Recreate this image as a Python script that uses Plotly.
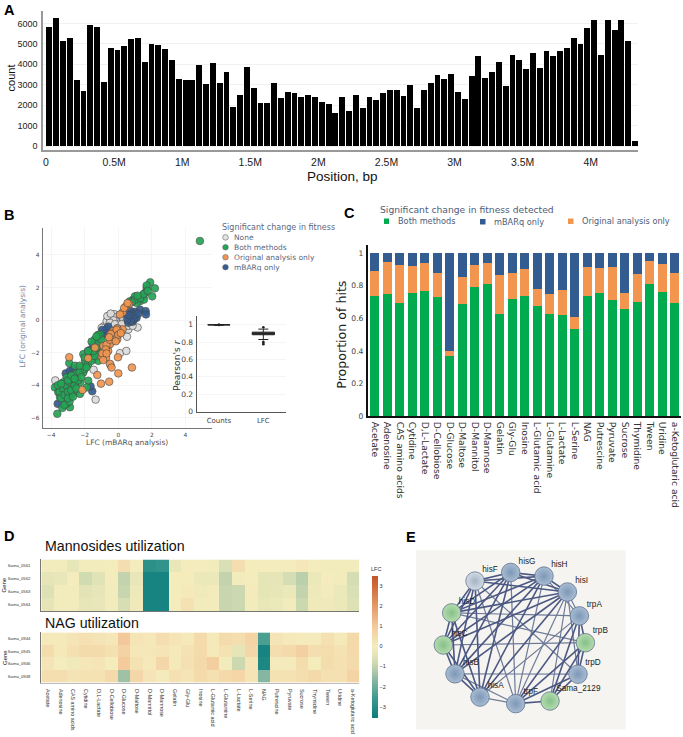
import plotly.graph_objects as go

W, H = 683, 737
# ---------- Panel A ----------
bin_kb = 50
counts = [5805,6270,5125,5270,3235,2685,5900,5805,3135,4785,4705,4880,5255,5270,4120,4980,4950,4750,4200,3300,
          3220,3235,3960,3025,4075,3070,3605,1925,2520,3865,2860,2120,2085,3070,2330,2650,2570,2390,2520,2390,
          2135,2070,1600,2375,1715,2475,1875,2410,2250,2600,2730,2730,2460,2975,1845,2765,3070,3495,3285,3525,
          2635,2310,3445,4400,3315,3640,4105,2945,4430,4190,3785,4545,3815,4640,4380,4625,4785,5305,4980,5790,
          6145,4445,6145,5675,6160,5160,225]
pos_ticks = [0,500000,1000000,1500000,2000000,2500000,3000000,3500000,4000000]
pos_labels = ["0","0.5M","1M","1.5M","2M","2.5M","3M","3.5M","4M"]
count_ticks = [0,1000,2000,3000,4000,5000,6000]

# ---------- Panel B ----------
none_x = [-3.75,-1.35,-1.47,.10,.48,1.15,.52,-.24,-.50,.14,-.30,.30,-.85,-.46,-.99,.60,0,.40,-.69,-.10,.79,
          -.1,.1,-.3,.3,.5,-.5,-.2,.6,-.65,.2,-.05,.85,-.45]
none_y = [-3.70,-4.88,-3.05,-2.03,-1.89,-.45,-1.02,.37,.14,-.06,-.37,.45,-.37,-2.76,-.47,-.57,.04,-.37,-.06,-.16,-.16,
          .2,.3,0,.1,0,-.15,-.25,-.35,.25,-.25,-.5,-.35,.4]
both_x = [4.86,1.90,2.18,2.02,1.69,1.59,1.49,1.19,.89,.69,1.29,.99,1.69,1.53,1.09,-1.09,-1.39,-1.59,-1.19,-1.09,-1.29,
          -1.49,-1.19,-1.69,-2.08,-1.98,-1.79,-2.18,-2.38,-2.08,-2.58,-2.78,-2.48,-2.92,-1.79,-2.28,-3.08,-3.27,-2.98,
          -2.68,-3.77,-3.47,-3.17,-2.78,-3.57,-3.27,-2.98,-2.58,-2.28,-3.47,-3.17,-2.88,-3.33,-3.63,-3.08,-1.88,-2.58,
          -3.5,-3.3,-3.1,-2.9,-3.4,-3.2,-3.0,-2.8,-2.6,-2.4,-2.7,-2.5,-2.3,-2.2,-2.0,-1.9,-2.3,-1.8,-1.6,-1.4,-1.5,-1.3,-1.8,-2.0,
          -3.6,-3.4,-3.0,-2.8,-2.6,-3.2,-2.9,-3.0,-2.7,-2.5,-1.0,-1.2,-1.3,1.0,1.3,1.5,.8,1.15,1.75,.6]
both_y = [4.86,2.32,1.95,1.46,1.97,1.67,1.42,1.36,1.26,1.16,1.16,1.46,2.13,1.26,1.06,-.87,-1.18,-1.32,-1.48,-1.79,-2.09,
          -2.40,-2.50,-2.09,-2.09,-2.50,-2.70,-2.91,-3.11,-3.21,-3.31,-3.52,-3.52,-2.64,-3.72,-3.82,-3.52,-3.82,-3.92,
          -3.82,-4.13,-4.13,-4.23,-4.13,-4.43,-4.53,-4.53,-4.43,-4.53,-4.74,-4.94,-5.35,-5.39,-5.75,-5.14,-4.13,-2.80,
          -4.4,-4.2,-4.0,-3.8,-4.8,-4.6,-4.4,-4.3,-4.0,-3.7,-3.6,-3.3,-3.2,-3.5,-3.0,-2.9,-2.8,-2.3,-2.5,-2.2,-1.9,-1.7,-1.9,-2.3,
          -4.0,-3.9,-3.7,-3.4,-3.6,-5.2,-5.0,-4.8,-4.7,-4.2,-1.2,-.9,-1.0,1.25,1.35,1.6,1.1,1.5,1.8,1.0]
orig_x = [-2.92,-1.25,-1.03,-.54,0,.81,-.02,-.50,-.40,-2.14,-1.79,-.73,-.99,-.85,-.60,-.89,-.60,-.30,-.06,-.40,-.10,-.30,
          .10,.26,-.06,-1.39,.26,.46,.65,-.2,-.5,
          -.7,-.75,-.5,-.35,-.2,-.1,0,.15,-.45,-.55,-.95,-.7,.1,.35,.55,-.15,-.9]
orig_y = [-2.28,-3.37,-3.90,-3.78,-3.27,-2.91,-2.28,-2.68,-2.91,-4.29,-2.34,-2.30,-2.26,-1.93,-1.89,-1.59,-1.52,-1.28,-1.18,
          -.98,-.83,-.67,-.67,-.57,-.51,-1.69,.47,.85,1.0,-1.04,-1.48,
          -1.5,-1.8,-1.2,-1.0,-.75,-.6,-.9,-.8,-.85,-1.05,-2.05,-2.05,.35,.75,1.05,-1.3,-2.45]
mbarq_x = [-1.55,-1.65,-2.82,-3.61,-3.13,-2.88,-2.68,-1.69,-1.39,-1.09,-.89,-.69,-.79,.75,.99,1.29,1.63,1.65,.89,.69,.6,.85,1.09,.5,
           .8,1.0,.95,.75,.55,1.2,.65,-1.0,-.75,-.6,-.95,-1.2,-1.8,-1.5]
mbarq_y = [-4.37,-4.07,-4.59,-5.14,-3.27,-3.11,-3.01,-1.83,-1.28,-1.08,-.77,-.57,-.87,.55,.51,.65,.55,.35,.24,.10,-.16,-.10,.14,.35,
           .4,.3,.05,-.05,.05,.4,.3,-.9,-.65,-.4,-.6,-1.15,-1.9,-1.5]
lfc_ticks = [-4,-2,0,2,4]
lfc_ytick = [-6,-4,-2,0,2,4]
legend_b = ["None","Both methods","Original analysis only","mBARq only"]

box_names = ["Counts","LFC"]
box_q1 = [.998,.885]
box_med = [1.0,.90]
box_q3 = [1.0,.915]
box_low = [.995,.83]
box_up = [1.0,.95]
out_names = ["LFC","LFC","LFC","LFC"]
out_vals = [.775,.79,.805,.97]

# ---------- Panel C ----------
carbon = ["Acetate","Adenosine","CAS amino acids","Cytidine","D,L-Lactate","D-Cellobiose","D-Glucose","D-Maltose","D-Mannitol",
          "D-Mannose","Gelatin","Gly-Glu","Inosine","L-Glutamic acid","L-Glutamine","L-Lactate","L-Serine","NAG","Putrescine",
          "Pyruvate","Sucrose","Thymidine","Tween","Uridine","a-Ketoglutaric acid"]
both_p = [.735,.752,.693,.756,.768,.732,.372,.687,.791,.813,.626,.717,.736,.673,.624,.618,.533,.740,.758,.713,.659,.699,.809,.764,.695]
orig_p = [.157,.191,.232,.163,.171,.144,.030,.165,.138,.126,.238,.161,.164,.107,.124,.158,.075,.173,.149,.204,.097,.173,.146,.169,.181]
mbarq_p = [.108,.057,.075,.081,.061,.124,.598,.148,.071,.061,.136,.122,.100,.220,.252,.224,.392,.087,.093,.083,.244,.128,.045,.067,.124]
prop_ticks = [0,.2,.4,.6,.8,1]
prop_labels = ["0","0.2","0.4","0.6","0.8","1"]

# ---------- Panel D ----------
man_genes = ["Sama_0561","Sama_0562","Sama_0563","Sama_0564"]
man_lfc = [
 [-.1,-.1,-.35,-.1,-.1,0,.4,-.05,-2.9,-2.8,-.3,-.05,-.05,-.1,-.6,.4,0,-.05,-.05,-.05,.15,-.05,-.1,-.1,-.1],
 [-.4,-.3,-.05,-.75,-.5,-.05,-1.0,-.3,-3.3,-3.3,0,0,-.25,-.25,-1.0,-.1,0,-.4,-.4,-.7,-1.1,-.25,-.05,-.1,-.7],
 [-.55,-.1,-.1,-.45,-.35,-.1,-.9,-.2,-3.3,-3.3,0,.1,-.15,-.1,-.9,-.85,.05,-.4,-.35,-.25,-1.0,-.2,-.1,-.25,-.6],
 [-.4,-.1,-.1,-.35,-.3,-.1,-.65,-.15,-3.3,-3.3,-.05,.3,-.1,-.1,-.9,-.85,-.1,-.3,-.25,-.1,-.85,-.15,-.15,-.25,-.55],
]
nag_genes = ["Sama_0944","Sama_0945","Sama_0946","Sama_0948"]
nag_lfc = [
 [.1,.1,.2,.35,.25,.15,1.0,.2,.15,.4,.2,.1,.5,.1,.5,.4,.7,-2.4,.2,.1,.05,.05,.35,.1,.55],
 [.45,.1,.35,.5,.5,.35,.75,.15,.15,.2,.1,.3,.5,.1,.3,-.4,.6,-3.3,.4,.55,.8,.4,.45,.3,.55],
 [.2,-.05,-.15,.15,.2,0,.95,.3,.1,.6,.1,.35,.55,.85,-.1,-.85,.2,-3.2,.05,.05,.45,0,.45,.35,.5],
 [.4,.4,.25,.3,.3,.55,-1.4,.6,.2,.05,.35,.2,.5,.35,.55,.65,.2,-1.7,.3,.3,.4,.55,.35,.35,.7],
]
lfc_scale = [[0,"#0b7d7e"],[.143,"#3e9a8f"],[.286,"#93bca5"],[.357,"#c0d2ac"],[.429,"#dfe2b6"],[.5,"#f5edbd"],
             [.643,"#f3ca9c"],[.786,"#e49a68"],[.929,"#cf6a3a"],[1,"#c4552a"]]

# ---------- Panel E ----------
node_names = ["hisF","hisG","hisH","hisI","trpA","trpB","trpD","Sama_2129","trpF","hisA","hisB","hisC","hisD"]
node_x = [195,302,402,472,508,526,504,420,317,210,135,100,125]
node_y = [165,139,150,198,270,351,446,527,535,515,445,358,261]
label_x = [240,351,448,515,553,571,549,505,362,257,183,148,171]
label_y = [131,107,116,166,238,317,412,492,501,481,411,326,228]
node_fill = ["#d2dbe5","#a9bdd3","#a9bdd3","#a9bdd3","#a9bdd3","#b5dcae","#a9bdd3","#b5dcae","#a9bdd3","#a9bdd3","#a9bdd3","#b5dcae","#b5dcae"]
node_rim = ["#a4b4c4","#7d97b6","#7d97b6","#7d97b6","#7d97b6","#86c088","#7d97b6","#86c088","#7d97b6","#7d97b6","#7d97b6","#86c088","#86c088"]
his = [0,1,2,3,9,10,11,12]
trp = [4,5,6,7,8]
heavy_edges = [(a,b) for i,a in enumerate(his) for b in his[i+1:]] + [(a,b) for i,a in enumerate(trp) for b in trp[i+1:]]
light_edges = [(3,8),(0,8),(1,8),(10,6),(12,4),(11,5),(12,5),(0,6),(3,4),(2,4),(9,4),(3,6),(9,8),(10,8),(3,7),(2,8)]

BLUE, GREEN, ORANGE, GREY = "#335c90", "#00ab50", "#f2964f", "#dddddd"
SANS = "Liberation Sans"
DJV = "DejaVu Sans"

def dx(l, r): return [l/W, r/W]
def dy(t, b): return [1-b/H, 1-t/H]

fig = go.Figure()

# A
fig.add_trace(go.Bar(x=[(i+.5)*bin_kb*1000 for i in range(len(counts))], y=counts, width=bin_kb*1000*.86,
                     marker=dict(color="#000000", line_width=0), showlegend=False, xaxis="x", yaxis="y"))

# B
for xs, ys, col, name in [(none_x,none_y,GREY,legend_b[0]),(mbarq_x,mbarq_y,BLUE,legend_b[3]),(both_x,both_y,"#22a655",legend_b[1]),(orig_x,orig_y,ORANGE,legend_b[2])]:
    fig.add_trace(go.Scatter(x=xs, y=ys, mode="markers", name=name, showlegend=False, xaxis="x2", yaxis="y2",
                             marker=dict(size=7.6, color=col, opacity=.92, line=dict(color="#4a4a4a", width=.7))))
fig.add_trace(go.Box(x=box_names, q1=box_q1, median=box_med, q3=box_q3, lowerfence=box_low, upperfence=box_up,
                     width=.5, whiskerwidth=.45, boxpoints=False, fillcolor="#3d3d3d",
                     line=dict(color="#222222", width=1), showlegend=False, xaxis="x3", yaxis="y3"))
fig.add_trace(go.Scatter(x=out_names, y=out_vals, mode="markers", marker=dict(size=2.6, color="#222222"), showlegend=False, xaxis="x3", yaxis="y3"))
fig.add_trace(go.Scatter(x=["Counts"], y=[1.0], mode="markers", marker=dict(size=3, color="#222222"), showlegend=False, xaxis="x3", yaxis="y3"))

# C
for vals, col, name in [(both_p,GREEN,"Both methods"),(orig_p,ORANGE,"Original analysis only"),(mbarq_p,BLUE,"mBARq only")]:
    fig.add_trace(go.Bar(x=carbon, y=vals, width=.75, name=name, marker=dict(color=col, line_width=0), showlegend=False, xaxis="x4", yaxis="y4"))

# D
fig.add_trace(go.Heatmap(z=man_lfc, x=carbon, y=man_genes, coloraxis="coloraxis", xaxis="x5", yaxis="y5"))
fig.add_trace(go.Heatmap(z=nag_lfc, x=carbon, y=nag_genes, coloraxis="coloraxis", xaxis="x6", yaxis="y6"))

# E
def edge_xy(edges):
    xs, ys = [], []
    for a, b in edges:
        xs += [node_x[a], node_x[b], None]
        ys += [node_y[a], node_y[b], None]
    return xs, ys
ex, ey = edge_xy(light_edges)
fig.add_trace(go.Scatter(x=ex, y=ey, mode="lines", line=dict(color="#6d7a99", width=1.2), showlegend=False, hoverinfo="skip", xaxis="x7", yaxis="y7"))
ex, ey = edge_xy(heavy_edges)
fig.add_trace(go.Scatter(x=ex, y=ey, mode="lines", line=dict(color="#4b5883", width=1.6), showlegend=False, hoverinfo="skip", xaxis="x7", yaxis="y7"))
fig.add_trace(go.Scatter(x=node_x, y=node_y, mode="markers", showlegend=False, xaxis="x7", yaxis="y7",
                         marker=dict(size=18.5, color=node_fill, gradient=dict(type="radial", color=node_rim), line=dict(color="#5f7390", width=.8))))
fig.add_trace(go.Scatter(x=label_x, y=label_y, mode="text", text=node_names, textfont=dict(family=SANS, size=8.2, color="#222222"),
                         showlegend=False, xaxis="x7", yaxis="y7"))

def ann(px, py, text, size, color="#111111", family=SANS, angle=0, xanchor="center", bold=False):
    return dict(x=px/W, y=1-py/H, xref="paper", yref="paper", text=f"<b>{text}</b>" if bold else text, showarrow=False,
                font=dict(size=size, color=color, family=family), textangle=angle, xanchor=xanchor, yanchor="middle")

LEG = "#5c6880"
annotations = [
    ann(9,10,"A",14.5,bold=True,color="#000"), ann(9,216,"B",14.5,bold=True,color="#000"),
    ann(349,214,"C",14.5,bold=True,color="#000"), ann(9,540,"D",14.5,bold=True,color="#000"), ann(411,541,"E",14.5,bold=True,color="#000"),
    ann(342,178,"Position, bp",13.5), ann(11,79,"count",11,angle=-90),
    ann(23,329,"LFC (original analysis)",7.5,color="#7884a0",family=DJV,angle=-90),
    ann(127,446,"LFC (mBARq analysis)",7.5,color="#555555",family=DJV),
    ann(176.5,368,"Pearson's <i>r</i>",9.2,color="#333333",family=DJV,angle=-90),
    ann(220,229,"Significant change in fitness",8,color=LEG,family=DJV,xanchor="left"),
    ann(232,239,legend_b[0],7.5,color=LEG,family=DJV,xanchor="left"),
    ann(232,249,legend_b[1],7.5,color=LEG,family=DJV,xanchor="left"),
    ann(232,259,legend_b[2],7.5,color=LEG,family=DJV,xanchor="left"),
    ann(232,269,legend_b[3],7.5,color=LEG,family=DJV,xanchor="left"),
    ann(378,211,"Significant change in fitness detected",9.2,color="#4e5d78",family=DJV,xanchor="left"),
    ann(396,223,"Both methods",8.2,color="#4e5d78",family=DJV,xanchor="left"),
    ann(492,223.5,"mBARq only",8.2,color="#4e5d78",family=DJV,xanchor="left"),
    ann(580,223,"Original analysis only",8.2,color="#4e5d78",family=DJV,xanchor="left"),
    ann(342,337,"Proportion of hits",12.6,color="#222222",family=DJV,angle=-90),
    ann(43,549.5,"Mannosides utilization",14.2,xanchor="left"),
    ann(43,627,"NAG utilization",14.2,xanchor="left"),
    ann(4.5,589,"Gene",6,angle=-90), ann(4.5,662,"Gene",6,angle=-90),
    ann(376,572.5,"LFC",5.5,color="#333333"),
]
def circ(cx, cy, r, col, line="#666"):
    return dict(type="circle", xref="paper", yref="paper", x0=(cx-r)/W, x1=(cx+r)/W, y0=1-(cy+r)/H, y1=1-(cy-r)/H,
                fillcolor=col, line=dict(color=line, width=.6))
def sq(x0, y0, x1, y1, col):
    return dict(type="rect", xref="paper", yref="paper", x0=x0/W, x1=x1/W, y0=1-y1/H, y1=1-y0/H, fillcolor=col, line_width=0, layer="below")
shapes = [
    sq(416,554,625.7,734.5,"#f6f4f0"),
    circ(225.5,239,2.8,"#e4e4e4"), circ(225.5,249,2.8,"#22a655"), circ(225.5,259,2.8,ORANGE), circ(225.5,269,2.8,BLUE),
    sq(384,220,389,225.5,GREEN), sq(480,220.5,485.5,226,BLUE), sq(568,220,573.5,225.5,ORANGE),
]

def ax(dom, anchor, **kw):
    base = dict(domain=dom, anchor=anchor, showgrid=False, zeroline=False, showline=True, ticks="outside", ticklen=3,
                tickcolor="rgba(0,0,0,0)")
    base.update(kw)
    return base

fig.update_layout(
    width=W, height=H, margin=dict(l=0,r=0,t=0,b=0), paper_bgcolor="white", plot_bgcolor="white",
    barmode="stack", showlegend=False, annotations=annotations, shapes=shapes,
    # A
    xaxis=ax(dx(43,638),"y",range=[-22000,4347000],tickmode="array",tickvals=pos_ticks,ticktext=pos_labels,
             tickfont=dict(family=SANS,size=10.5,color="#222"),linecolor="#999",linewidth=1.5,ticklen=2),
    yaxis=ax(dy(11,151),"x",range=[-194,6610],tickmode="array",tickvals=count_ticks,showgrid=True,gridcolor="#f1f1f1",
             tickfont=dict(family=SANS,size=9,color="#222"),linecolor="#999",linewidth=1.5,ticklen=2),
    # B
    xaxis2=ax(dx(42.7,212),"y2",range=[-4.5,5.58],tickmode="array",tickvals=lfc_ticks,showgrid=True,gridcolor="#f5f5f5",
              tickfont=dict(family=DJV,size=5.8,color="#444"),linecolor="#777",linewidth=1.2,ticklen=1),
    yaxis2=ax(dy(230,430.7),"x2",range=[-6.61,5.63],tickmode="array",tickvals=lfc_ytick,showgrid=True,gridcolor="#f5f5f5",
              tickfont=dict(family=DJV,size=5.8,color="#444"),linecolor="#777",linewidth=1.2,ticklen=1),
    xaxis3=ax(dx(196.7,286),"y3",type="category",range=[-.5,1.51],categoryorder="array",categoryarray=box_names,
              tickfont=dict(family=DJV,size=7,color="#444"),linecolor="#555",linewidth=1.2,ticklen=1),
    yaxis3=ax(dy(318,415),"x3",range=[-.008,1.103],tickmode="array",tickvals=prop_ticks,ticktext=prop_labels,showgrid=True,gridcolor="#f5f5f5",
              tickfont=dict(family=DJV,size=7.5,color="#444"),linecolor="#555",linewidth=1.2,ticklen=1),
    # C
    xaxis4=ax(dx(367.7,680.7),"y4",type="category",range=[-.56,24.48],categoryorder="array",categoryarray=carbon,tickangle=90,
              tickfont=dict(family=DJV,size=9.2,color="#333"),linecolor="#111",linewidth=1.5,ticklen=2),
    yaxis4=ax(dy(246.7,419),"x4",range=[0,1.05],tickmode="array",tickvals=prop_ticks,ticktext=prop_labels,
              tickfont=dict(family=DJV,size=7.6,color="#444"),linecolor="#111",linewidth=1.5,ticklen=1),
    # D
    xaxis5=ax(dx(41.3,359.3),"y5",type="category",categoryorder="array",categoryarray=carbon,showticklabels=False,ticks="",
              linecolor="#777",linewidth=1.2),
    yaxis5=ax(dy(563.3,615.5),"x5",type="category",autorange="reversed",tickfont=dict(family=SANS,size=4.2,color="#333"),
              linecolor="#777",linewidth=1.2,ticklen=9),
    xaxis6=ax(dx(41.3,359.3),"y6",type="category",categoryorder="array",categoryarray=carbon,tickangle=90,
              tickfont=dict(family=SANS,size=5.4,color="#333"),linecolor="#bbb",linewidth=1.2,ticklen=4),
    yaxis6=ax(dy(636.7,687.5),"x6",type="category",autorange="reversed",tickfont=dict(family=SANS,size=4.2,color="#333"),
              linecolor="#777",linewidth=1.2,ticklen=9),
    coloraxis=dict(cmin=-3.55,cmax=3.5,colorscale=lfc_scale,
                   colorbar=dict(x=372/W,xanchor="left",y=1-651.3/H,yanchor="middle",len=142.7/H,lenmode="fraction",thickness=6,thicknessmode="pixels",
                                 tickmode="array",tickvals=[-3,-2,-1,0,1,2,3],ticks="",outlinewidth=0,xpad=0,ypad=0,
                                 tickfont=dict(family=SANS,size=5.5,color="#333"))),
    # E
    xaxis7=dict(domain=dx(416,625.7),anchor="y7",range=[18,647],visible=False),
    yaxis7=dict(domain=dy(554,734.5),anchor="x7",range=[613,72],visible=False),
)
fig.write_html("out.html", post_script="document.body.style.margin='0';", config=dict(displayModeBar=False))
